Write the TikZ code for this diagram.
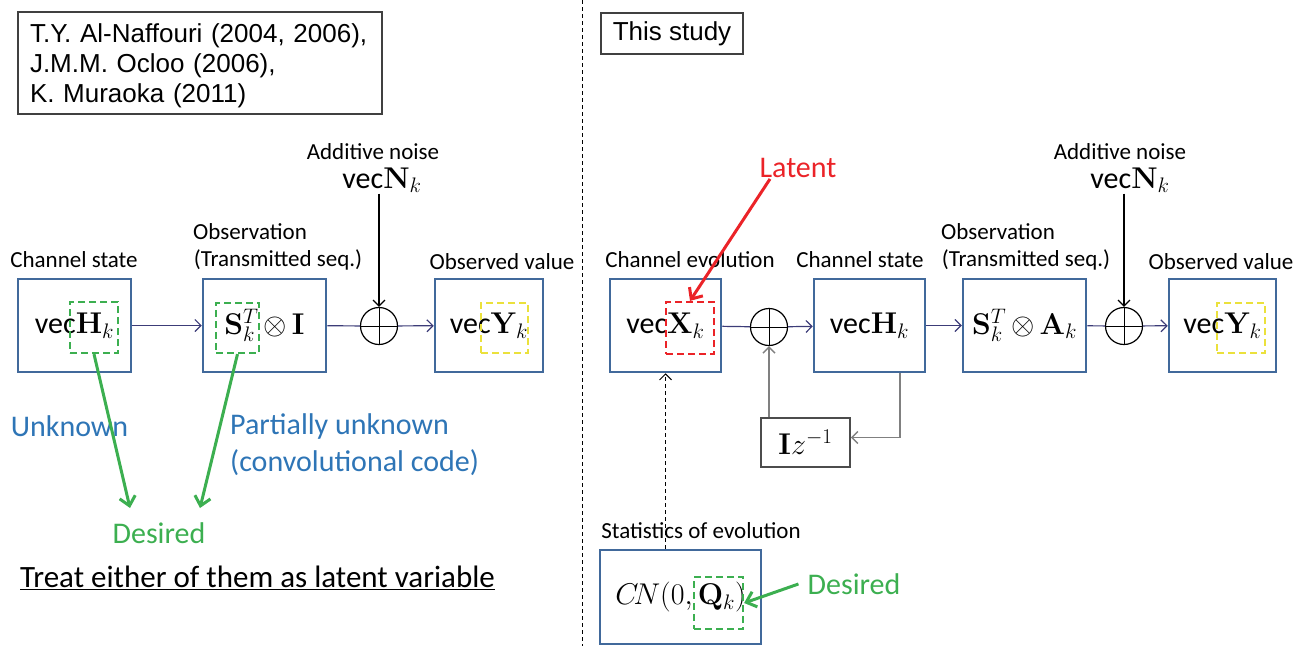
\RequirePackage{fix-cm}
\documentclass[tikz,border=0pt]{standalone}
\usepackage[no-math]{fontspec}
\setmainfont{Carlito}
\newfontfamily\arialfont{Liberation Sans}
\usetikzlibrary{arrows.meta}

\definecolor{boxblue}{RGB}{65,105,155}
\definecolor{linenavy}{RGB}{60,60,120}
\definecolor{txtblue}{RGB}{46,117,182}
\definecolor{dgreen}{RGB}{60,175,80}
\definecolor{dred}{RGB}{235,35,40}
\definecolor{dyellow}{RGB}{235,225,60}

\newcommand{\lblsize}{\fontsize{23}{26}\selectfont}
\newcommand{\notesize}{\fontsize{30}{34}\selectfont}
\newcommand{\mathsize}{\fontsize{30}{34}\selectfont}
\newcommand{\refsize}{\fontsize{26}{30}\selectfont}
\newcommand{\vecop}{\mbox{vec}}

\tikzset{
  blockbox/.style={draw=boxblue, line width=2.5pt, minimum width=#1, minimum height=93, inner sep=0pt, font=\mathsize},
  hlbox/.style={draw=#1, line width=2.2pt, dash pattern=on 7pt off 4pt, minimum width=48, minimum height=51, inner sep=0pt},
  sumnode/.style={draw, circle, line width=1.2pt, minimum size=37, inner sep=0pt},
  lbl/.style={font=\lblsize, inner sep=1pt},
  note/.style={font=\notesize, inner sep=1pt},
  flow/.style={draw=linenavy, line width=1.2pt, -{Straight Barb[length=6pt,width=12pt]}},
  feed/.style={draw=gray, line width=1.5pt, -{Straight Barb[length=6pt,width=12pt]}},
  pick/.style={line width=3pt, -{Straight Barb[length=9pt,width=16pt]}},
}

\begin{document}
\begin{tikzpicture}[x=1pt, y=-1pt]
  \useasboundingbox (0,0) rectangle (1307,646);
  % previous works
  \draw[draw=black!75, line width=1.2pt] (18,12) rectangle (382,114);
  \node[text width=340, align=left, inner sep=0pt, font=\arialfont\refsize] (refs) at (200,66)
    {T.Y. Al-Naffouri (2004, 2006),\\J.M.M. Ocloo (2006),\\K. Muraoka (2011)};
  \node[draw=black!75, line width=1.2pt, minimum width=142, minimum height=41, inner sep=0pt, font=\arialfont\refsize] (ours) at (672,33.5) {This study};
  \draw[line width=1pt, dash pattern=on 4pt off 3pt] (582,0) -- (582,646);

  % left model
  \node[blockbox=113] (hL) at (74.5,325.5) {$\vecop\mathbf{H}_k$};
  \node[blockbox=123] (sL) at (264.5,325.5) {$\mathbf{S}_k^T\,{\otimes}\,\mathbf{I}$};
  \node[sumnode] (addL) at (379,326) {};
  \node[blockbox=108] (yL) at (489,325.5) {$\vecop\mathbf{Y}_k$};
  \node[hlbox=dgreen] (hHL) at (94,327.5) {};
  \node[hlbox=dgreen, minimum width=43, minimum height=50] (hSL) at (237.5,328) {};
  \node[hlbox=dyellow, minimum width=47, minimum height=50] (hYL) at (504.5,328) {};
  \node[lbl] (hLlab) at (74,260) {Channel state};
  \node[lbl] (sLlab1) at (250,232) {Observation};
  \node[lbl] (sLlab2) at (278,260) {(Transmitted seq.)};
  \node[lbl] (yLlab) at (502,262) {Observed value};
  \node[lbl] (nLlab) at (373,152) {Additive noise};
  \node[font=\mathsize, inner sep=1pt] (nL) at (382,180) {$\vecop\mathbf{N}_k$};
  \draw (addL.north) -- (addL.south) (addL.west) -- (addL.east);
  \draw[flow] (hL) -- (sL);
  \draw[draw=linenavy, line width=1.2pt] (sL) -- (addL);
  \draw[flow] (addL) -- (yL);
  \draw[flow, draw=black] (nL.south -| addL) -- (addL.north);

  \node[note, text=txtblue] (unk) at (69.5,426) {Unknown};
  \node[note, text=txtblue, anchor=west] (punk) at (229,426) {Partially unknown};
  \node[note, text=txtblue, anchor=west] (conv) at (229,463) {(convolutional code)};
  \node[note, text=dgreen] (desL) at (159,533) {Desired};
  \coordinate (desA) at (130,508);
  \coordinate (desB) at (200,508);
  \draw[pick, dgreen] (hHL.south) -- (desA);
  \draw[pick, dgreen] (hSL.south) -- (desB);
  \node[font=\fontsize{31}{36}\selectfont, inner sep=1pt, anchor=west] (treat) at (19,578) {\underline{Treat either of them as latent variable}};

  % this study
  \node[blockbox=111] (xR) at (665.5,325.5) {$\vecop\mathbf{X}_k$};
  \node[sumnode] (addR1) at (769,327) {};
  \node[blockbox=111] (hR) at (869.5,325.5) {$\vecop\mathbf{H}_k$};
  \node[blockbox=123] (sR) at (1024.5,325.5) {$\mathbf{S}_k^T\,{\otimes}\,\mathbf{A}_k$};
  \node[sumnode] (addR2) at (1124,326) {};
  \node[blockbox=107] (yR) at (1222.5,325.5) {$\vecop\mathbf{Y}_k$};
  \node[draw=black!70, line width=1.5pt, minimum width=89, minimum height=49, inner sep=0pt, font=\mathsize] (delay) at (805.5,442.5) {$\mathbf{I}z^{-1}$};
  \node[blockbox=161, minimum height=94] (stat) at (680.5,597) {$C\!N(0,\mathbf{Q}_k)$};
  \node[hlbox=dred, minimum height=52] (hXR) at (690,328) {};
  \node[hlbox=dyellow, minimum height=50] (hYR) at (1241,328) {};
  \node[hlbox=dgreen, minimum width=49, minimum height=52] (hQ) at (718.5,603) {};
  \node[lbl] (xRlab) at (690,260) {Channel evolution};
  \node[lbl] (hRlab) at (860,260) {Channel state};
  \node[lbl] (sRlab1) at (998,232) {Observation};
  \node[lbl] (sRlab2) at (1026,260) {(Transmitted seq.)};
  \node[lbl] (yRlab) at (1221,262) {Observed value};
  \node[lbl] (nRlab) at (1120,152) {Additive noise};
  \node[font=\mathsize, inner sep=1pt] (nR) at (1130,180) {$\vecop\mathbf{N}_k$};
  \node[lbl] (statlab) at (701,531) {Statistics of evolution};
  \draw (addR1.north) -- (addR1.south) (addR1.west) -- (addR1.east);
  \draw (addR2.north) -- (addR2.south) (addR2.west) -- (addR2.east);
  \draw[flow] (xR) -- (addR1) -- (hR);
  \draw[flow] (hR) -- (sR);
  \draw[draw=linenavy, line width=1.2pt] (sR) -- (addR2);
  \draw[flow] (addR2) -- (yR);
  \draw[flow, draw=black] (nR.south -| addR2) -- (addR2.north);
  \draw[feed] ([xshift=30.5]hR.south) |- ([yshift=5]delay.east);
  \draw[feed] (delay.north -| addR1) -- (addR1.south);
  \draw[line width=1pt, dash pattern=on 4pt off 3pt, -{Straight Barb[length=6pt,width=12pt]}] (stat.north -| xR.south) -- (xR.south);

  \node[note, text=dred] (latent) at (798,168) {Latent};
  \draw[pick, dred] ([xshift=-28]latent.south) -- (hXR.north);
  \node[note, text=dgreen] (desR) at (854,584) {Desired};
  \draw[pick, dgreen] ([xshift=-8]desR.west) -- (hQ.east);
\end{tikzpicture}
\end{document}
